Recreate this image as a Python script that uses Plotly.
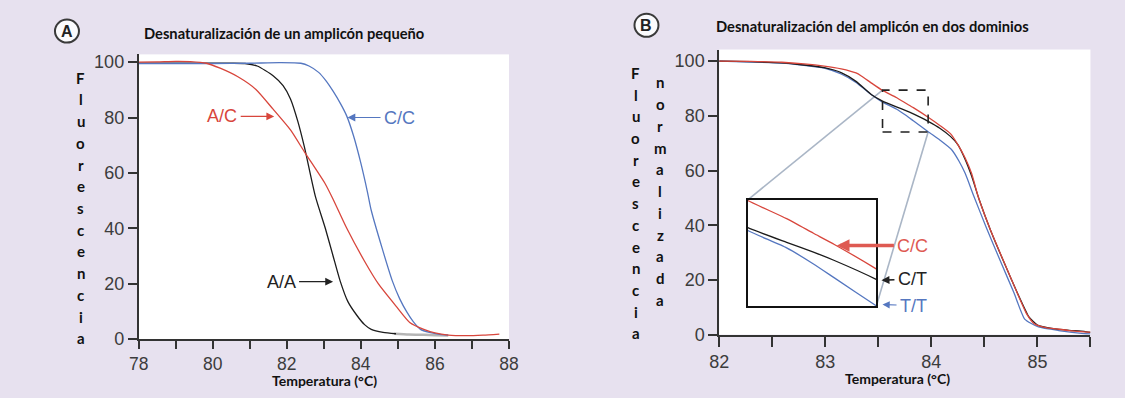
import plotly.graph_objects as go

# ---------------- Panel A: melt curves of a small amplicon ----------------
a_aa_temp = [78, 79, 80, 80.5, 80.87, 81.2, 81.63, 81.9, 82.1, 82.3, 82.48, 82.77,
             83.04, 83.25, 83.44, 83.65, 83.9, 84.1, 84.28, 84.6, 84.95]
a_aa_flu = [99.6, 99.6, 99.6, 99.6, 99.5, 98.6, 95.1, 91.5, 86.7, 78.5, 69.1, 51.6,
            40.0, 30.0, 21.0, 13.5, 8.4, 5.2, 3.5, 2.4, 1.9]
# faded tail of the A/A trace
a_aa_tail_temp = [84.9, 85.3, 85.7, 86.0, 86.36]
a_aa_tail_flu = [1.9, 1.6, 1.5, 1.4, 1.3]

a_ac_temp = [78, 78.5, 79, 79.4, 79.83, 80.2, 80.68, 81.16, 81.63, 82.1, 82.48, 83.04,
             83.25, 83.62, 84.1, 84.47, 84.95, 85.32, 85.7, 86.0, 86.36, 86.84, 87.3, 87.74]
a_ac_flu = [100.0, 100.1, 100.3, 100.2, 99.6, 97.8, 94.7, 90.2, 83.0, 75.5, 67.5, 56.0,
            50.5, 40.0, 28.1, 20.0, 11.9, 6.0, 3.5, 2.2, 1.4, 1.2, 1.4, 1.8]

a_cc_temp = [78, 80, 81, 81.8, 82.38, 82.6, 82.86, 83.05, 83.25, 83.45, 83.62, 83.8,
             84.0, 84.18, 84.28, 84.57, 84.85, 85.05, 85.24, 85.42, 85.61, 85.85, 86.09, 86.36]
a_cc_flu = [99.5, 99.5, 99.6, 99.8, 99.6, 98.6, 96.3, 93.4, 89.5, 85.0, 80.5, 73.5,
            63.5, 53.0, 46.5, 33.0, 21.0, 14.5, 9.8, 6.2, 3.5, 2.4, 1.8, 1.4]

a_xticks = [78, 79, 80, 81, 82, 83, 84, 85, 86, 87, 88]
a_xlabels = ["78", "", "80", "", "82", "", "84", "", "86", "", "88"]
a_yticks = [0, 20, 40, 60, 80, 100]

# ---------------- Panel B: amplicon melting in two domains ----------------
b_cc_temp = [82.0, 82.3, 82.59, 82.8, 82.99, 83.15, 83.29, 83.34, 83.45, 83.54, 83.67,
             83.76, 83.83, 83.97, 84.08, 84.18, 84.25, 84.32, 84.38, 84.44, 84.55, 84.68,
             84.81, 84.9, 84.97, 85.08, 85.18, 85.3, 85.44, 85.5]
b_cc_flu = [100.0, 99.9, 99.6, 99.0, 98.2, 97.2, 95.7, 94.6, 91.6, 89.3, 86.7,
            84.6, 83.0, 79.5, 76.5, 73.5, 69.5, 64.5, 58.9, 50.7, 39.0, 27.0,
            15.2, 7.5, 4.0, 2.6, 2.1, 1.5, 1.0, 0.9]

b_ct_temp = [82.0, 82.3, 82.59, 82.8, 82.99, 83.15, 83.29, 83.44, 83.54, 83.67, 83.76,
             83.83, 83.97, 84.08, 84.18, 84.25, 84.32, 84.38, 84.45, 84.56, 84.69, 84.82,
             84.92, 85.0, 85.15, 85.3, 85.44, 85.5]
b_ct_flu = [100.0, 99.8, 99.4, 98.6, 97.6, 95.8, 92.6, 87.6, 85.4, 83.3, 81.9,
            80.7, 78.0, 75.5, 72.5, 69.5, 64.0, 58.0, 49.5, 38.0, 26.0, 14.5,
            6.5, 3.5, 2.2, 1.6, 1.2, 0.8]

b_tt_temp = [82.0, 82.3, 82.59, 82.8, 82.99, 83.15, 83.29, 83.44, 83.54, 83.67, 83.76,
             83.83, 83.97, 84.08, 84.19, 84.26, 84.32, 84.4, 84.52, 84.65, 84.78, 84.88,
             85.01, 85.2, 85.44, 85.5]
b_tt_flu = [100.0, 99.7, 99.3, 98.5, 97.5, 95.3, 92.2, 87.6, 85.0, 82.5, 80.2,
            78.2, 74.2, 71.2, 67.7, 63.5, 58.9, 50.7, 39.0, 27.0, 15.2, 5.7,
            2.8, 1.5, 0.4, 0.3]

b_xticks = [82, 82.5, 83, 83.5, 84, 84.5, 85, 85.5]
b_xlabels = ["82", "", "83", "", "84", "", "85", ""]
b_yticks = [0, 20, 40, 60, 80, 100]

# zoom window (dashed box) and where its enlargement sits, in panel-B data units
zoom_temp = [83.54, 83.97]
zoom_flu = [74.1, 89.4]
inset_temp = [82.27, 83.48]
inset_flu = [10.3, 49.3]

RED = "#d8463c"
BLUE = "#5577c0"
BLACK = "#1c1c1c"
BG = "#e7e1ef"
TXT = "#3c3c3c"

W, H = 1125, 398

# plot-area placement (pixels)
A_L, A_R, A_T, A_B = 131, 508, 54, 347.5
B_L, B_R, B_T, B_B = 722, 1100, 49, 343
A_YMAX = (A_B - A_T) / ((A_B - 62) / 100)
B_YMAX = (B_B - B_T) / ((B_B - 61) / 100)
B_XR = [82, 85.5]


def px(x):
    return x / W


def py(y):
    return 1 - y / H


# inset domain derived from its position in panel-B data units
def b_to_paper(t, f):
    xp = B_L + (t - B_XR[0]) / (B_XR[1] - B_XR[0]) * (B_R - B_L)
    yp = B_B - f / B_YMAX * (B_B - B_T)
    return px(xp), py(yp)


ix0, iy0 = b_to_paper(inset_temp[0], inset_flu[0])
ix1, iy1 = b_to_paper(inset_temp[1], inset_flu[1])

fig = go.Figure()

lw = 1.3
# Panel A traces
fig.add_trace(go.Scatter(x=a_aa_tail_temp, y=a_aa_tail_flu, mode="lines",
                         line=dict(color="#b5b5b5", width=2.5, shape="spline", smoothing=0.6),
                         xaxis="x", yaxis="y"))
fig.add_trace(go.Scatter(x=a_aa_temp, y=a_aa_flu, mode="lines",
                         line=dict(color=BLACK, width=lw, shape="spline", smoothing=0.6),
                         xaxis="x", yaxis="y"))
fig.add_trace(go.Scatter(x=a_cc_temp, y=a_cc_flu, mode="lines",
                         line=dict(color=BLUE, width=lw, shape="spline", smoothing=0.6),
                         xaxis="x", yaxis="y"))
fig.add_trace(go.Scatter(x=a_ac_temp, y=a_ac_flu, mode="lines",
                         line=dict(color=RED, width=lw, shape="spline", smoothing=0.6),
                         xaxis="x", yaxis="y"))

# Panel B traces (main axes and enlarged inset)
for ax_x, ax_y in (("x2", "y2"), ("x3", "y3")):
    fig.add_trace(go.Scatter(x=b_tt_temp, y=b_tt_flu, mode="lines",
                             line=dict(color=BLUE, width=lw, shape="spline", smoothing=0.5),
                             xaxis=ax_x, yaxis=ax_y))
    fig.add_trace(go.Scatter(x=b_ct_temp, y=b_ct_flu, mode="lines",
                             line=dict(color=BLACK, width=lw, shape="spline", smoothing=0.5),
                             xaxis=ax_x, yaxis=ax_y))
    fig.add_trace(go.Scatter(x=b_cc_temp, y=b_cc_flu, mode="lines",
                             line=dict(color=RED, width=lw, shape="spline", smoothing=0.5),
                             xaxis=ax_x, yaxis=ax_y))

tickfont = dict(family="Liberation Sans, Arial, sans-serif", size=18, color=TXT)
axis_common = dict(showgrid=False, zeroline=False, showline=True, linecolor="#333333",
                   linewidth=1.8, ticks="outside", tickcolor="#333333", tickwidth=1.5,
                   tickfont=tickfont)

fig.update_layout(
    width=W, height=H, margin=dict(l=0, r=0, t=0, b=0),
    paper_bgcolor=BG, plot_bgcolor="white", showlegend=False,
    xaxis=dict(domain=[px(A_L), px(A_R)], range=[78, 88], anchor="y",
               tickmode="array", tickvals=a_xticks, ticktext=a_xlabels, ticklen=8,
               **{**axis_common, "tickfont": dict(tickfont, size=17.5)}),
    yaxis=dict(domain=[py(A_B), py(A_T)], range=[0, A_YMAX], anchor="x",
               tickmode="array", tickvals=a_yticks, ticklen=9, **axis_common),
    xaxis2=dict(domain=[px(B_L), px(B_R)], range=B_XR, anchor="y2",
                tickmode="array", tickvals=b_xticks, ticktext=b_xlabels, ticklen=10,
                **axis_common),
    yaxis2=dict(domain=[py(B_B), py(B_T)], range=[0, B_YMAX], anchor="x2",
                tickmode="array", tickvals=b_yticks, ticklen=9, **axis_common),
    xaxis3=dict(domain=[ix0, ix1], range=zoom_temp, anchor="y3", showgrid=False,
                zeroline=False, showticklabels=False, ticks="", showline=True,
                mirror=True, linecolor="#111111", linewidth=2),
    yaxis3=dict(domain=[iy0, iy1], range=zoom_flu, anchor="x3", showgrid=False,
                zeroline=False, showticklabels=False, ticks="", showline=True,
                mirror=True, linecolor="#111111", linewidth=2),
)

shapes = []
# dashed zoom window
shapes.append(dict(type="rect", xref="x2", yref="y2", x0=zoom_temp[0], x1=zoom_temp[1],
                   y0=zoom_flu[0], y1=zoom_flu[1],
                   line=dict(color="#222222", width=1.6, dash="dash"), layer="above"))
# connector lines from window to enlargement
shapes.append(dict(type="line", xref="x2", yref="y2", x0=zoom_temp[0], y0=zoom_flu[1],
                   x1=inset_temp[0], y1=inset_flu[1],
                   line=dict(color="#aab6c6", width=1.6), layer="below"))
shapes.append(dict(type="line", xref="x2", yref="y2", x0=zoom_temp[1], y0=zoom_flu[0],
                   x1=inset_temp[1], y1=inset_flu[0],
                   line=dict(color="#aab6c6", width=1.6), layer="below"))
# panel badges
for cx, cy in ((58, 30), (648, 24)):
    shapes.append(dict(type="circle", xref="paper", yref="paper",
                       xsizemode="pixel", ysizemode="pixel",
                       xanchor=px(cx), yanchor=py(cy), x0=-12, x1=12, y0=-11.5, y1=11.5,
                       fillcolor="#fbfbfd", line=dict(color="#3a3a3a", width=2)))
fig.update_layout(shapes=shapes)

ann = []
label_font = "Liberation Sans, Arial, sans-serif"
head_font = "Lato, Open Sans, sans-serif"

# panel badges letters
for letter, cx, cy in (("A", 58, 30), ("B", 648, 24)):
    ann.append(dict(text=f"<b>{letter}</b>", x=px(cx), y=py(cy), xref="paper", yref="paper",
                    showarrow=False, xanchor="center", yanchor="middle",
                    font=dict(family=label_font, size=16, color="#222222")))

# panel titles
ann.append(dict(text="<b>Desnaturalización de un amplicón pequeño</b>", x=px(279), y=py(32),
                xref="paper", yref="paper", showarrow=False, xanchor="center", yanchor="middle",
                font=dict(family=head_font, size=14.7, color="#111111")))
ann.append(dict(text="<b>Desnaturalización del amplicón en dos dominios</b>", x=px(878), y=py(25),
                xref="paper", yref="paper", showarrow=False, xanchor="center", yanchor="middle",
                font=dict(family=head_font, size=14.7, color="#111111")))

# x-axis titles
for cx, cy in ((320, 390), (904, 388)):
    ann.append(dict(text="<b>Temperatura (°C)</b>", x=px(cx), y=py(cy), xref="paper",
                    yref="paper", showarrow=False, xanchor="center", yanchor="middle",
                    font=dict(family=head_font, size=14, color="#111111")))


# vertical stacked y-axis titles
def stacked(word, cx, y_first, step=22.4):
    for i, ch in enumerate(word):
        ann.append(dict(text=f"<b>{ch}</b>", x=px(cx), y=py(y_first + i * step),
                        xref="paper", yref="paper", showarrow=False,
                        xanchor="center", yanchor="middle",
                        font=dict(family=head_font, size=15, color="#111111")))


stacked("Fluorescencia", 72, 78)
stacked("Fluorescencia", 637, 73)
stacked("normalizada", 662, 83)


# curve labels with arrows
def tag(text, color, x, y, xr, yr, ax, ay, width=1.2, size=0.9, head=2):
    ann.append(dict(text=text, x=x, y=y, xref=xr, yref=yr, ax=ax, ay=ay,
                    showarrow=True, arrowhead=head, arrowsize=size, arrowwidth=width,
                    arrowcolor=color, standoff=0, startstandoff=2,
                    font=dict(family=label_font, size=18, color=color)))


tag("A/C", RED, 81.66, 80.4, "x", "y", -52, 0, size=1.3)
tag("C/C", BLUE, 83.64, 80.0, "x", "y", 52, 0, size=1.3)
tag("A/A", "#222222", 83.25, 20.7, "x", "y", -52, 0, size=1.3)
tag("C/C", "#de5a52", 83.11, 32.6, "x2", "y2", 76, 0, width=3.6, size=0.7)
tag("C/T", "#222222", 83.53, 19.9, "x2", "y2", 31, -1, width=1.6, size=1.0)
tag("T/T", BLUE, 83.54, 11.0, "x2", "y2", 31, 1, width=1.2, size=1.2)

fig.update_layout(annotations=ann)

fig.write_html("out.html")
